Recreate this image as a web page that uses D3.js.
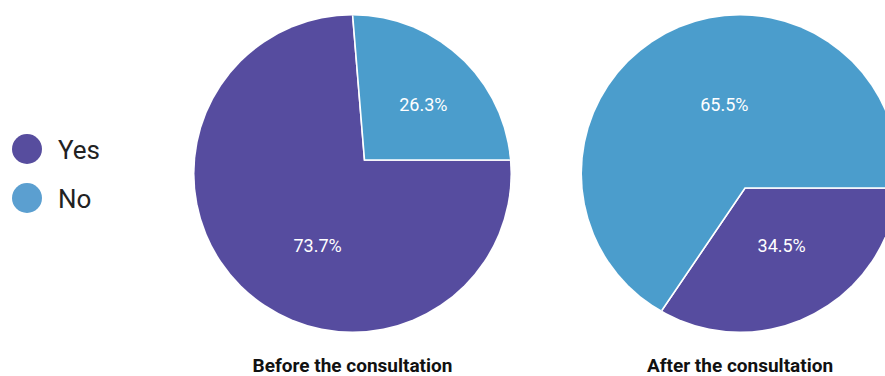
<!DOCTYPE html>
<html>
<head>
<meta charset="utf-8">
<script src="https://cdn.jsdelivr.net/npm/d3@7/dist/d3.min.js"></script>
<style>
  html, body { margin: 0; padding: 0; background: #fff; }
  svg { display: block; font-family: Roboto, "Noto Sans", sans-serif; }
</style>
</head>
<body>
<svg id="chart" width="885" height="376"></svg>
<script>
// Answers and the share of each, before and after the consultation
const answers = ["Yes", "No"];
const beforeShares = [73.7, 26.3];
const afterShares = [34.5, 65.5];
const chartTitles = ["Before the consultation", "After the consultation"];
const answerColors = ["#564c9f", "#4b9dcc"];
const legendColors = ["#574d9e", "#5b9fd0"];

// Layout
const W = 885, H = 376;
const R = 158;
const pies = [
  { title: chartTitles[0], values: beforeShares, cx: 352.5, cy: 173.5, hub: [364.5, 160],
    nudge: [[12, 22], [0, 8]] },
  { title: chartTitles[1], values: afterShares, cx: 740, cy: 173.5, hub: [745, 188],
    nudge: [[-4, -19], [20, -7]] }
];

const svg = d3.select("#chart");
const defs = svg.append("defs");

const pie = d3.pie().sort(null).value(d => d).startAngle(Math.PI / 2).endAngle(Math.PI / 2 + 2 * Math.PI);
const wedge = d3.arc().innerRadius(0).outerRadius(R * 3);
const labelArc = d3.arc().innerRadius(0).outerRadius(R * 1.1);

pies.forEach((p, i) => {
  const clipId = "pie-clip-" + i;
  defs.append("clipPath").attr("id", clipId)
    .append("circle").attr("cx", p.cx).attr("cy", p.cy).attr("r", R);

  const g = svg.append("g").attr("clip-path", `url(#${clipId})`);
  const arcs = pie(p.values);

  g.append("g")
    .attr("transform", `translate(${p.hub[0]},${p.hub[1]})`)
    .selectAll("path")
    .data(arcs)
    .join("path")
    .attr("d", wedge)
    .attr("fill", (d, j) => answerColors[j])
    .attr("stroke", "#fff")
    .attr("stroke-width", 1.6)
    .attr("stroke-linejoin", "miter");

  svg.append("g")
    .attr("transform", `translate(${p.hub[0]},${p.hub[1]})`)
    .selectAll("text")
    .data(arcs)
    .join("text")
    .attr("x", (d, j) => labelArc.centroid(d)[0] + p.nudge[j][0])
    .attr("y", (d, j) => labelArc.centroid(d)[1] + p.nudge[j][1])
    .attr("text-anchor", "middle")
    .attr("dominant-baseline", "central")
    .attr("fill", "#fff")
    .attr("font-size", 18)
    .text(d => d3.format(".1f")(d.data) + "%");

  svg.append("text")
    .attr("x", p.cx)
    .attr("y", 371.5)
    .attr("text-anchor", "middle")
    .attr("font-size", 19)
    .attr("font-weight", "bold")
    .attr("fill", "#111")
    .text(p.title);
});

// Legend
const legendY = d3.scalePoint().domain(answers).range([149, 198]);
const legend = svg.append("g")
  .selectAll("g")
  .data(answers)
  .join("g")
  .attr("transform", d => `translate(27,${legendY(d)})`);
legend.append("circle").attr("r", 15).attr("fill", (d, j) => legendColors[j]);
legend.append("text")
  .attr("x", 31)
  .attr("y", 1)
  .attr("dominant-baseline", "central")
  .attr("font-size", 26)
  .attr("fill", "#222")
  .text(d => d);
</script>
</body>
</html>
